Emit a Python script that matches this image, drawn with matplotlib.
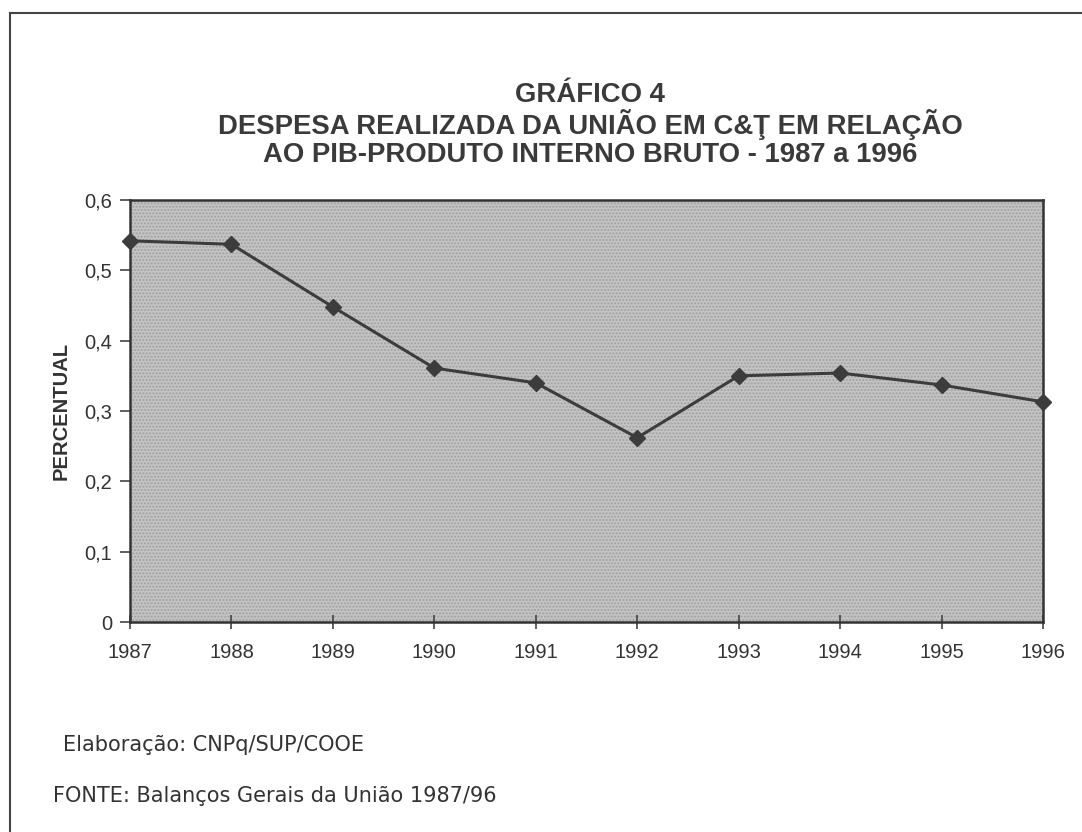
import matplotlib
matplotlib.use("Agg")
import matplotlib.pyplot as plt
from matplotlib.lines import Line2D

# dados
anos = [1987, 1988, 1989, 1990, 1991, 1992, 1993, 1994, 1995, 1996]
percentual = [0.542, 0.537, 0.448, 0.361, 0.340, 0.262, 0.350, 0.354, 0.337, 0.313]
yticks = [0, 0.1, 0.2, 0.3, 0.4, 0.5, 0.6]
ytick_labels = ["0", "0,1", "0,2", "0,3", "0,4", "0,5", "0,6"]

titulo = ["GRÁFICO 4",
          "DESPESA REALIZADA DA UNIÃO EM C&Ţ EM RELAÇÃO",
          "AO PIB-PRODUTO INTERNO BRUTO - 1987 a 1996"]

plt.rcParams['font.family'] = ['Liberation Sans', 'DejaVu Sans']

fig = plt.figure(figsize=(10.82, 8.32), dpi=100)
ax = fig.add_axes([130 / 1082, 1 - 622 / 832, 913 / 1082, 422 / 832])

ax.set_facecolor('#c4c4c4')
ax.add_patch(plt.Rectangle((0, 0), 1, 1, transform=ax.transAxes, fill=False,
                           hatch='.....', edgecolor='#a0a0a0', linewidth=0, zorder=0))

ax.plot(anos, percentual, color='#3c3c3c', linewidth=2.2, marker='D',
        markersize=8, markerfacecolor='#3c3c3c', markeredgecolor='#3c3c3c',
        clip_on=False, zorder=3)

ax.set_xlim(1987, 1996)
ax.set_ylim(0, 0.6)
ax.set_xticks(anos)
ax.set_xticklabels([str(a) for a in anos], fontsize=14.5, color='#333333')
ax.set_yticks(yticks)
ax.set_yticklabels(ytick_labels, fontsize=14.5, color='#333333')
ax.tick_params(axis='x', direction='inout', length=10, width=1.2, color='#444444', pad=10)
ax.tick_params(axis='y', direction='out', length=7, width=1.2, color='#444444', pad=6)
for s in ax.spines.values():
    s.set_color('#333333')
    s.set_linewidth(1.8)

ax.set_ylabel("PERCENTUAL", fontsize=14.5, fontweight='bold', color='#333333', labelpad=10)

for i, linha in enumerate(titulo):
    fig.text(590 / 1082, 1 - (95 + 30 * i) / 832, linha, ha='center', va='center',
             fontsize=19.8, fontweight='bold', color='#3a3a3a')

fig.text(63 / 1082, 1 - 751 / 832, "Elaboração: CNPq/SUP/COOE", fontsize=15,
         family=['DejaVu Sans'], color='#333333', va='baseline')
fig.text(53 / 1082, 1 - 802 / 832, "FONTE: Balanços Gerais da União 1987/96", fontsize=15,
         family=['DejaVu Sans'], color='#333333', va='baseline')

# moldura da página (só topo e esquerda aparecem)
fig.add_artist(Line2D([10 / 1082, 1], [1 - 13 / 832, 1 - 13 / 832], transform=fig.transFigure,
                      color='#444444', linewidth=1.5))
fig.add_artist(Line2D([10 / 1082, 10 / 1082], [1 - 13 / 832, 0], transform=fig.transFigure,
                      color='#444444', linewidth=1.5))

fig.savefig("out.png", dpi=100, facecolor='white')
